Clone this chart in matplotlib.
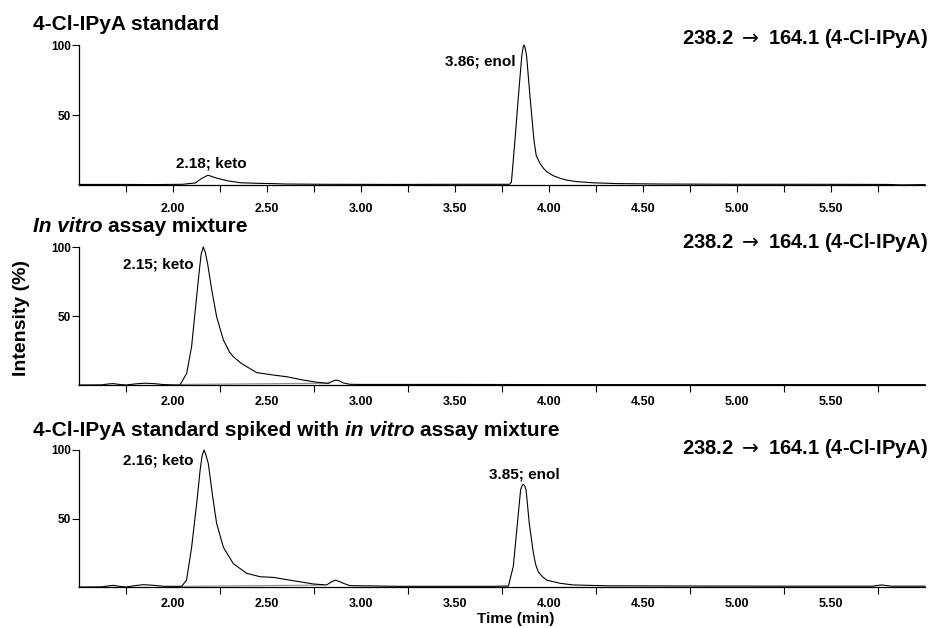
import numpy as np
import matplotlib
matplotlib.use('Agg')
import matplotlib.pyplot as plt

plt.rcParams['font.family'] = ['Liberation Sans', 'DejaVu Sans']
plt.rcParams['mathtext.fontset'] = 'dejavusans'

# ---- datos (tiempo en min, intensidad en %) ----
t_std = [1.50, 1.70, 1.90, 2.05, 2.12, 2.15, 2.186, 2.23, 2.29, 2.36, 2.45,
         2.53, 2.60, 2.80, 3.20, 3.50, 3.70, 3.79, 3.80, 3.819, 3.837, 3.855,
         3.862, 3.867, 3.873, 3.881, 3.899, 3.920, 3.932, 3.952, 3.970, 3.988,
         4.025, 4.059, 4.094, 4.147, 4.234, 4.36, 4.60, 5.00, 5.40, 5.80, 5.87,
         5.95, 6.00]
i_std = [0.4, 0.4, 0.3, 0.5, 1.5, 4.5, 7.0, 5.0, 3.0, 1.6, 1.2,
         1.0, 0.7, 0.5, 0.4, 0.5, 0.5, 0.5, 2.0, 32, 63, 92,
         98, 100, 98, 92, 63, 32, 21, 15.5, 12, 9.5,
         6.5, 4.8, 3.5, 2.4, 1.6, 1.0, 0.7, 0.5, 0.5, 0.4, 0.1,
         0.2, 0.3]

t_vitro = [1.50, 1.62, 1.66, 1.683, 1.71, 1.75, 1.80, 1.851, 1.90, 1.95, 2.00,
           2.037, 2.073, 2.099, 2.122, 2.140, 2.150, 2.161, 2.172, 2.184, 2.206,
           2.232, 2.268, 2.30, 2.321, 2.36, 2.392, 2.445, 2.534, 2.605, 2.676,
           2.764, 2.826, 2.845, 2.867, 2.885, 2.906, 2.941, 3.0, 3.5, 4.0, 4.5,
           5.0, 5.5, 6.0]
i_vitro = [0.0, 0.1, 0.8, 1.0, 0.5, 0.0, 0.8, 1.3, 1.0, 0.3, 0.1,
           0.0, 8.5, 28, 59, 83, 95, 100, 96, 88, 69,
           49.5, 32.6, 24, 20.5, 16, 13.3, 9.0, 7.2, 6.0, 4.0,
           2.0, 1.2, 2.5, 3.6, 3.0, 1.5, 0.5, 0.4, 0.4, 0.3, 0.3,
           0.3, 0.3, 0.3]

t_mix = [1.50, 1.62, 1.66, 1.683, 1.71, 1.75, 1.80, 1.842, 1.90, 1.95, 2.046,
         2.072, 2.099, 2.126, 2.144, 2.155, 2.165, 2.176, 2.188, 2.211, 2.232,
         2.268, 2.321, 2.392, 2.463, 2.534, 2.640, 2.747, 2.817, 2.840, 2.862,
         2.885, 2.906, 2.941, 3.2, 3.5, 3.70, 3.784, 3.810, 3.832, 3.849,
         3.857, 3.863, 3.870, 3.878, 3.895, 3.917, 3.930, 3.943, 3.965, 3.988,
         4.059, 4.129, 4.30, 4.80, 5.30, 5.72, 5.77, 5.82, 6.00]
i_mix = [0.0, 0.1, 0.9, 1.2, 0.6, 0.0, 1.0, 1.7, 1.2, 0.5, 0.5,
         5.0, 29, 61, 85, 96, 100, 96, 90, 66, 46.5,
         29, 17, 10, 7.5, 7.0, 4.6, 2.2, 1.5, 3.5, 5.0,
         4.0, 2.7, 1.0, 0.5, 0.5, 0.5, 0.7, 15, 46.5, 71,
         74, 75, 74, 71, 46.5, 24.6, 16, 11, 7.5, 5.0,
         2.7, 1.5, 0.9, 0.7, 0.6, 0.6, 1.5, 0.6, 0.6]

# lineas base de integracion (gris)
t_base_vitro = [2.04, 2.83]
i_base_vitro = [0.4, 1.3]
t_base_mix = [2.05, 2.80]
i_base_mix = [0.5, 1.4]

labels_std = [(2.202, 15.7, '2.18; keto'), (3.633, 88, '3.86; enol')]
labels_vitro = [(1.92, 87, '2.15; keto')]
labels_mix = [(1.92, 92, '2.16; keto'), (3.867, 82, '3.85; enol')]

mrm = r'238.2 $\rightarrow$ 164.1 (4-Cl-IPyA)'
tick_pos = [2.0, 2.5, 3.0, 3.5, 4.0, 4.5, 5.0, 5.5]
tick_txt = ['2.00', '2.50', '3.00', '3.50', '4.00', '4.50', '5.00', '5.50']

W, H = 935, 628
fig = plt.figure(figsize=(W / 100, H / 100), dpi=100)


def px_axes(top, bottom, left=79, right=925):
    # crea un eje a partir de coordenadas en pixeles (origen arriba)
    return fig.add_axes([left / W, 1 - bottom / H, (right - left) / W, (bottom - top) / H])


def estilo(ax, major_len):
    ax.set_xlim(1.5, 6.0)
    ax.set_ylim(0, 100)
    for s in ['top', 'right']:
        ax.spines[s].set_visible(False)
    for s in ['left', 'bottom']:
        ax.spines[s].set_linewidth(0.9)
    ax.set_yticks([50, 100])
    ax.set_yticklabels(['50', '100'], fontsize=8.5, fontweight='bold')
    ax.set_xticks(tick_pos)
    ax.set_xticklabels(tick_txt, fontsize=9, fontweight='bold')
    ax.set_xticks(np.arange(1.75, 6.0, 0.5), minor=True)
    ax.tick_params(axis='y', length=5, width=0.8, pad=1)
    ax.tick_params(axis='x', which='major', length=major_len, width=0.8, pad=8)
    ax.tick_params(axis='x', which='minor', length=5, width=0.8)


def texto_mixto(x, y, partes, size):
    # escribe un texto con partes en cursiva, una al lado de la otra
    r = fig.canvas.get_renderer()
    gap = 0.278 * size * 100 / 72
    for s, st in partes:
        t = fig.text(x / W, 1 - y / H, s, fontsize=size, fontweight='bold',
                     fontstyle=st, va='center', ha='left')
        x += t.get_window_extent(r).width + gap


paneles = [
    (45, 185, t_std, i_std, None, None, labels_std, 5),
    (247, 385, t_vitro, i_vitro, t_base_vitro, i_base_vitro, labels_vitro, 0),
    (450, 587, t_mix, i_mix, t_base_mix, i_base_mix, labels_mix, 0),
]

for top, bottom, t, i, tb, ib, labs, mlen in paneles:
    ax = px_axes(top, bottom)
    if tb is not None:
        ax.plot(tb, ib, color='#8a8a8a', lw=0.8)
    ax.plot(t, i, color='black', lw=0.8, clip_on=False)
    estilo(ax, mlen)
    for x, y, s in labs:
        ax.text(x, y, s, fontsize=11, fontweight='bold', ha='center', va='center')

# titulos de cada panel
texto_mixto(33, 24, [('4-Cl-IPyA standard', 'normal')], 15)
texto_mixto(33, 227, [('In vitro', 'italic'), ('assay mixture', 'normal')], 15)
texto_mixto(33, 431, [('4-Cl-IPyA standard spiked with', 'normal'),
                      ('in vitro', 'italic'), ('assay mixture', 'normal')], 15)

for y in [39, 242, 449]:
    fig.text(928 / W, 1 - y / H, mrm, fontsize=14.5, fontweight='bold', ha='right', va='center')

fig.text(22 / W, 1 - 318 / H, 'Intensity (%)', fontsize=14, fontweight='bold',
         rotation=90, ha='center', va='center')
fig.text(516 / W, 1 - 619 / H, 'Time (min)', fontsize=11, fontweight='bold',
         ha='center', va='center')

fig.savefig('out.png', dpi=100)
